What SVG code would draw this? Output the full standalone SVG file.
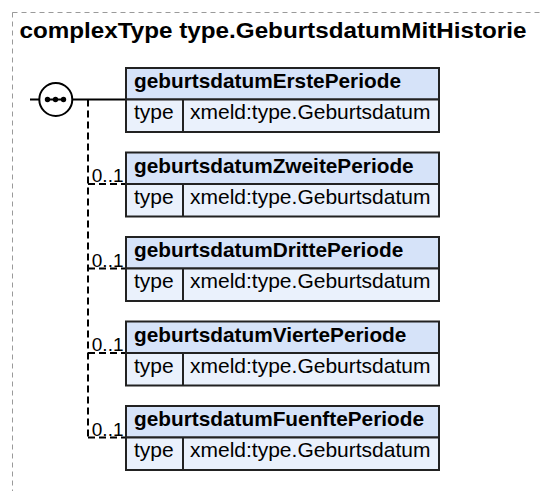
<svg xmlns="http://www.w3.org/2000/svg" width="542" height="491" viewBox="0 0 542 491">
<defs>
<style>
.frame{fill:#fff;stroke:#9a9a9a;stroke-width:1;stroke-dasharray:5,4}
.title{font-family:"Liberation Sans",Arial,sans-serif;font-weight:bold;font-size:22.5px;fill:#000}
.hdr{fill:#d6e3f9;stroke:#222;stroke-width:2}
.row{fill:#eaf1fc;stroke:#222;stroke-width:2}
.name{font-family:"Liberation Sans",Arial,sans-serif;font-weight:bold;font-size:20.8px;fill:#000}
.cell{font-family:"Liberation Sans",Arial,sans-serif;font-size:21px;fill:#000}
.occ{font-family:"Liberation Sans",Arial,sans-serif;font-size:19px;fill:#000;text-anchor:end}
.solid{fill:none;stroke:#000;stroke-width:2}
.dash{fill:none;stroke:#000;stroke-width:2;stroke-dasharray:7,4}
</style>
</defs>
<rect class="frame" x="12.5" y="12.5" width="620" height="620"/>
<text class="title" x="19.5" y="38" textLength="507" lengthAdjust="spacingAndGlyphs">complexType type.GeburtsdatumMitHistorie</text>

<g id="connectors">
<line class="solid" x1="30" y1="99.5" x2="126" y2="99.5"/>
<path class="dash" d="M88,99.5 V437.5"/>
<path class="dash" d="M88,184 H126"/>
<path class="dash" d="M88,268.5 H126"/>
<path class="dash" d="M88,353 H126"/>
<path class="dash" d="M88,437.5 H126"/>
<text class="occ" x="123.5" y="182">0..1</text>
<text class="occ" x="123.5" y="266.5">0..1</text>
<text class="occ" x="123.5" y="351">0..1</text>
<text class="occ" x="123.5" y="435.5">0..1</text>
</g>

<g id="sequence">
<circle cx="55.8" cy="99.5" r="16.5" fill="#fff" stroke="#000" stroke-width="2"/>
<line x1="46" y1="99.5" x2="65" y2="99.5" stroke="#000" stroke-width="2"/>
<circle cx="47.5" cy="99.5" r="2.7" fill="#000"/>
<circle cx="55.5" cy="99.5" r="2.7" fill="#000"/>
<circle cx="63.5" cy="99.5" r="2.7" fill="#000"/>
</g>

<g id="geburtsdatumErstePeriode">
<rect class="hdr" x="126" y="68" width="313" height="31.5"/>
<rect class="row" x="126" y="99.5" width="313" height="32.5"/>
<line x1="183" y1="99.5" x2="183" y2="132" stroke="#222" stroke-width="2"/>
<text class="name" x="134" y="88">geburtsdatumErstePeriode</text>
<text class="cell" x="134" y="119">type</text>
<text class="cell" x="190" y="119">xmeld:type.Geburtsdatum</text>
</g>

<g id="geburtsdatumZweitePeriode">
<rect class="hdr" x="126" y="152.5" width="313" height="31.5"/>
<rect class="row" x="126" y="184" width="313" height="32.5"/>
<line x1="183" y1="184" x2="183" y2="216.5" stroke="#222" stroke-width="2"/>
<text class="name" x="134" y="172.5">geburtsdatumZweitePeriode</text>
<text class="cell" x="134" y="203.5">type</text>
<text class="cell" x="190" y="203.5">xmeld:type.Geburtsdatum</text>
</g>

<g id="geburtsdatumDrittePeriode">
<rect class="hdr" x="126" y="237" width="313" height="31.5"/>
<rect class="row" x="126" y="268.5" width="313" height="32.5"/>
<line x1="183" y1="268.5" x2="183" y2="301" stroke="#222" stroke-width="2"/>
<text class="name" x="134" y="257">geburtsdatumDrittePeriode</text>
<text class="cell" x="134" y="288">type</text>
<text class="cell" x="190" y="288">xmeld:type.Geburtsdatum</text>
</g>

<g id="geburtsdatumViertePeriode">
<rect class="hdr" x="126" y="321.5" width="313" height="31.5"/>
<rect class="row" x="126" y="353" width="313" height="32.5"/>
<line x1="183" y1="353" x2="183" y2="385.5" stroke="#222" stroke-width="2"/>
<text class="name" x="134" y="341.5">geburtsdatumViertePeriode</text>
<text class="cell" x="134" y="372.5">type</text>
<text class="cell" x="190" y="372.5">xmeld:type.Geburtsdatum</text>
</g>

<g id="geburtsdatumFuenftePeriode">
<rect class="hdr" x="126" y="406" width="313" height="31.5"/>
<rect class="row" x="126" y="437.5" width="313" height="32.5"/>
<line x1="183" y1="437.5" x2="183" y2="470" stroke="#222" stroke-width="2"/>
<text class="name" x="134" y="426">geburtsdatumFuenftePeriode</text>
<text class="cell" x="134" y="457">type</text>
<text class="cell" x="190" y="457">xmeld:type.Geburtsdatum</text>
</g>
</svg>
